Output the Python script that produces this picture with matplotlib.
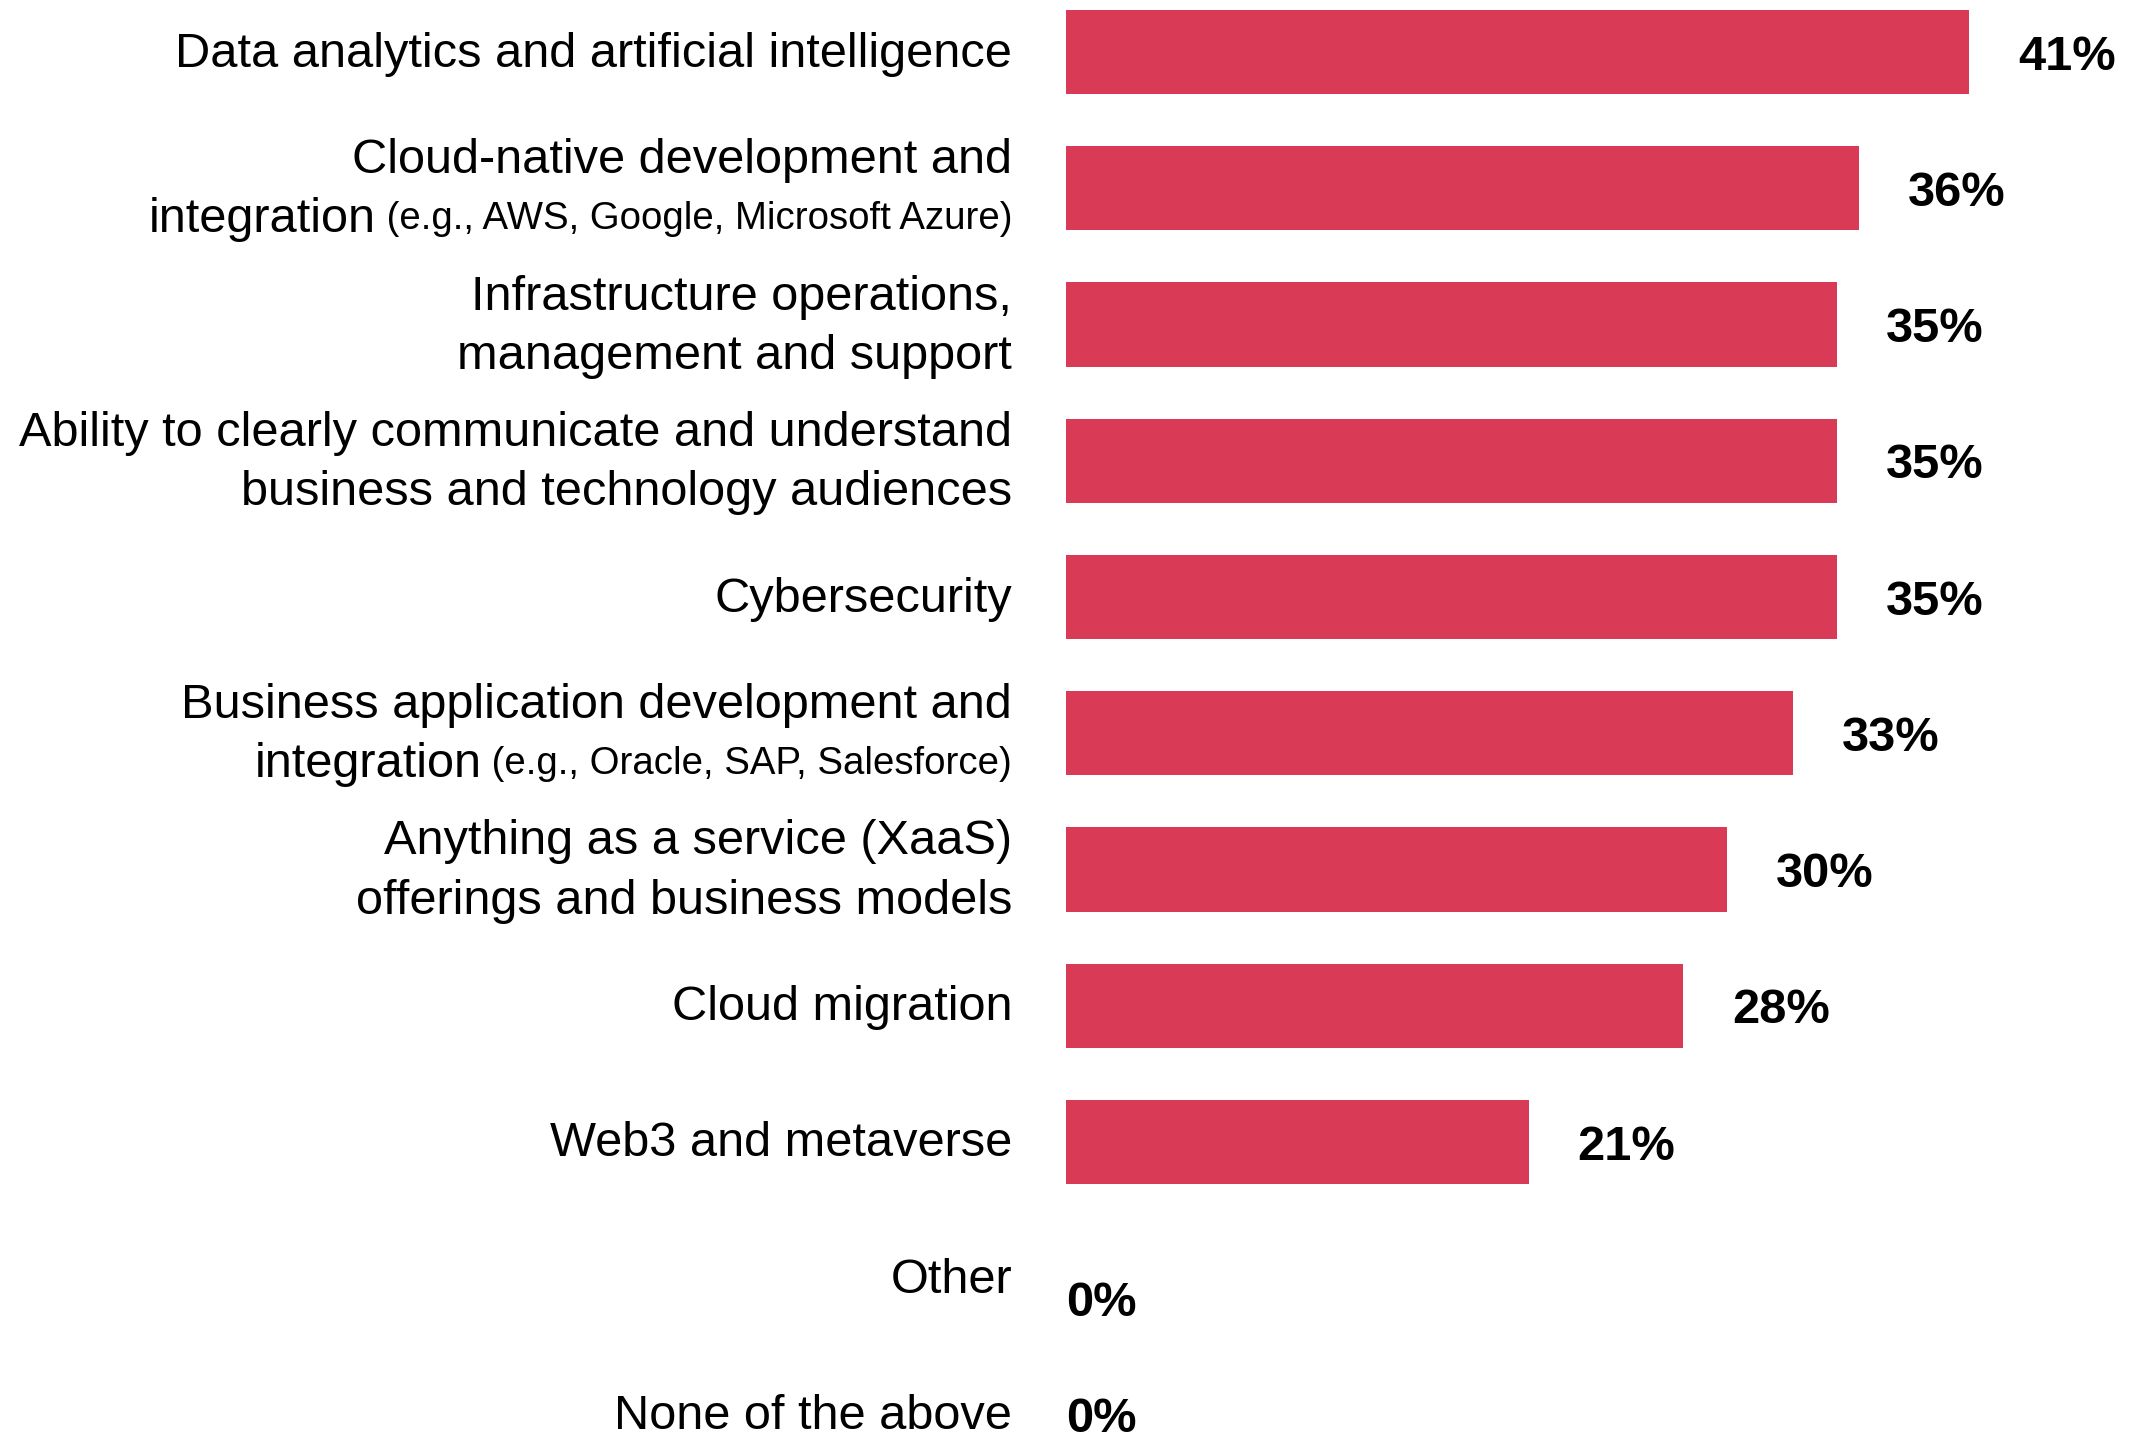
import matplotlib
matplotlib.use("Agg")
import matplotlib.pyplot as plt

categories = [
    "Data analytics and artificial intelligence",
    "Cloud-native development and\nintegration",
    "Infrastructure operations,\nmanagement and support",
    "Ability to clearly communicate and understand\nbusiness and technology audiences",
    "Cybersecurity",
    "Business application development and\nintegration",
    "Anything as a service (XaaS)\nofferings and business models",
    "Cloud migration",
    "Web3 and metaverse",
    "Other",
    "None of the above",
]
notes = ["", " (e.g., AWS, Google, Microsoft Azure)", "", "", "",
         " (e.g., Oracle, SAP, Salesforce)", "", "", "", "", ""]
values = [41, 36, 35, 35, 35, 33, 30, 28, 21, 0, 0]

W, H, DPI = 2144, 1438, 100
BAR_COLOR = "#D93A56"
FONT = "Liberation Sans"
FS = 35.1
FS_SMALL = 27.6
PX_PER_UNIT = 22.03
X0 = 1066
ROW = 136.25
Y0 = 52

plt.rcParams["font.family"] = [FONT, "DejaVu Sans"]
fig = plt.figure(figsize=(W / DPI, H / DPI), dpi=DPI)
ax = fig.add_axes([0, 0, 1, 1])
ax.set_xlim(-X0 / PX_PER_UNIT, (W - X0) / PX_PER_UNIT)
ax.set_ylim((H - Y0) / ROW, -Y0 / ROW)
ax.axis("off")

ypos = list(range(len(categories)))
ax.barh(ypos, values, height=0.62, color=BAR_COLOR, linewidth=0)

renderer = fig.canvas.get_renderer()
LINE = 59  # px between lines
LABEL_GAP = 54

for i, (cat, note, v) in enumerate(zip(categories, notes, values)):
    lines = cat.split("\n")
    n = len(lines)
    for k, line in enumerate(lines):
        dy = (n - 1) / 2 * LINE - k * LINE + 3
        xoff = -LABEL_GAP
        if k == n - 1 and note:
            t = ax.annotate(note, xy=(0, i), xycoords="data",
                            xytext=(xoff, dy), textcoords="offset pixels",
                            ha="right", va="center_baseline", fontsize=FS_SMALL,
                            color="black")
            w = t.get_window_extent(renderer).width
            xoff -= w
        ax.annotate(line, xy=(0, i), xycoords="data",
                    xytext=(xoff, dy), textcoords="offset pixels",
                    ha="right", va="center_baseline", fontsize=FS, color="black")
    gap = 49 if v > 0 else 0
    vdy = -20 if (v == 0 and i == len(values) - 2) else 0
    ax.annotate(f"{v}%", xy=(v, i), xycoords="data",
                xytext=(gap, vdy), textcoords="offset pixels",
                ha="left", va="center_baseline", fontsize=FS, fontweight="bold",
                color="black")

fig.savefig("out.png", dpi=DPI, facecolor="white")
